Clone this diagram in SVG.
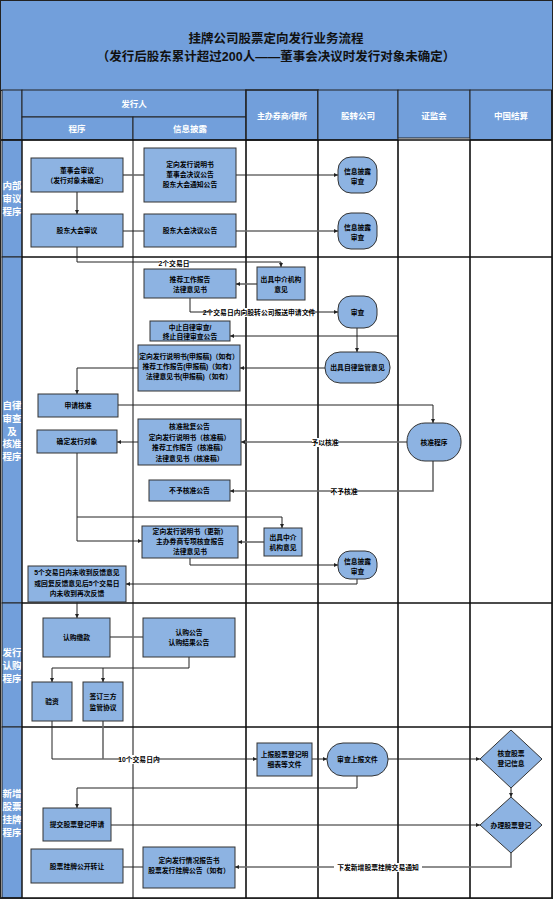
<svg xmlns="http://www.w3.org/2000/svg" width="553" height="900" viewBox="0 0 553 900">
<style>
.hd{fill:#729FDB;stroke:#222;stroke-width:1}
.ln{stroke:#111;stroke-width:1.6;fill:none}
.lt{stroke:#111;stroke-width:1;fill:none}
.bx{fill:#8DB3E2;stroke:#333;stroke-width:1}
.t{font-family:"Liberation Sans","Noto Sans CJK SC",sans-serif;font-size:6.8px;font-weight:bold;text-anchor:middle;fill:#000}
.w{font-family:"Liberation Sans","Noto Sans CJK SC",sans-serif;font-weight:bold;text-anchor:middle;fill:#fff}
.ttl{font-family:"Liberation Sans","Noto Sans CJK SC",sans-serif;font-size:12.5px;font-weight:bold;text-anchor:middle;fill:#111}
.c{stroke:#222;stroke-width:1;fill:none}
.g{stroke:#6a6a6a;stroke-width:1.6;fill:none}
.lb{fill:#fff}
</style>
<defs>
<marker id="ar" viewBox="0 0 6 6" refX="6" refY="3" markerWidth="4" markerHeight="4" orient="auto" markerUnits="userSpaceOnUse"><path d="M0,0 L6,3 L0,6 z" fill="#222"/></marker>
</defs>
<rect x="0" y="0" width="553" height="900" fill="#fff"/>
<g id="title">
<rect class="hd" x="0.5" y="0.5" width="552" height="90"/>
<text class="ttl" x="276" y="43">挂牌公司股票定向发行业务流程</text>
<text class="ttl" x="276" y="61">（发行后股东累计超过200人——董事会决议时发行对象未确定）</text>
</g>
<g id="header">
<rect class="hd" x="2" y="90" width="20" height="50"/>
<rect class="hd" x="22" y="90" width="224" height="27"/>
<rect class="hd" x="22" y="117" width="111" height="23"/>
<rect class="hd" x="133" y="117" width="113" height="23"/>
<rect class="hd" x="246" y="90" width="72" height="50" style="stroke-width:1.6"/>
<rect class="hd" x="318" y="90" width="80" height="50"/>
<rect class="hd" x="398" y="90" width="72" height="48"/>
<rect class="hd" x="470" y="90" width="82" height="50"/>
<text class="w" x="134" y="107" font-size="8.5">发行人</text>
<text class="w" x="77" y="132" font-size="8.5">程序</text>
<text class="w" x="190" y="132" font-size="8.5">信息披露</text>
<text class="w" x="282" y="119" font-size="8">主办券商/律所</text>
<text class="w" x="358" y="119" font-size="8.5">股转公司</text>
<text class="w" x="434" y="119" font-size="8.5">证监会</text>
<text class="w" x="511" y="119" font-size="8.5">中国结算</text>
</g>
<g id="lanes">
<rect class="hd" x="2" y="140" width="20" height="117"/>
<rect class="hd" x="2" y="257" width="20" height="346"/>
<rect class="hd" x="2" y="603" width="20" height="124"/>
<rect class="hd" x="2" y="727" width="20" height="171"/>
<text class="w" font-size="9.5"><tspan x="12" y="189">内部</tspan><tspan x="12" y="202">审议</tspan><tspan x="12" y="215">程序</tspan></text>
<text class="w" font-size="9.5"><tspan x="12" y="409">自律</tspan><tspan x="12" y="422">审查</tspan><tspan x="12" y="435">及</tspan><tspan x="12" y="447">核准</tspan><tspan x="12" y="460">程序</tspan></text>
<text class="w" font-size="9.5"><tspan x="12" y="656">发行</tspan><tspan x="12" y="669">认购</tspan><tspan x="12" y="682">程序</tspan></text>
<text class="w" font-size="9.5"><tspan x="12" y="797">新增</tspan><tspan x="12" y="810">股票</tspan><tspan x="12" y="823">挂牌</tspan><tspan x="12" y="836">程序</tspan></text>
<path class="lt" d="M22,140 V898 M133,140 V898"/>
<path class="ln" d="M246,140 V898 M318,140 V898 M398,140 V898 M470,140 V898 M552,90 V898"/>
<path class="ln" d="M0,140 H553 M22,257 H553 M22,603 H553 M22,727 H553 M0,898 H553"/>
<rect x="0.5" y="0.5" width="552" height="898" fill="none" stroke="#222"/>
</g>
<g id="connectors">
<path class="g" d="M123,175 H144"/>
<path class="c" d="M236,175 H338" marker-end="url(#ar)"/>
<path class="g" d="M77,192 V214" marker-end="url(#ar)"/>
<path class="c" d="M123,231 H144"/>
<path class="g" d="M236,231 H338" marker-end="url(#ar)"/>
<path class="c" d="M77,247 V262 H281 V267" marker-end="url(#ar)"/>
<path class="g" d="M257,284 H236" marker-end="url(#ar)"/>
<path class="c" d="M190,298 V312 H338" marker-end="url(#ar)"/>
<path class="c" d="M357,328 V352" marker-end="url(#ar)"/>
<path class="c" d="M398,336 H230" marker-end="url(#ar)"/>
<path class="c" d="M325,368 H240" marker-end="url(#ar)"/>
<path class="c" d="M138,368 H77 V394" marker-end="url(#ar)"/>
<path class="c" d="M118,405 H433 V423" marker-end="url(#ar)"/>
<path class="g" d="M407,442 H241" marker-end="url(#ar)"/>
<path class="c" d="M138,442 H117" marker-end="url(#ar)"/>
<path class="g" d="M433,461 V491 H230" marker-end="url(#ar)"/>
<path class="c" d="M77,453 V541 H142" marker-end="url(#ar)"/>
<path class="c" d="M77,517 H282 V528" marker-end="url(#ar)"/>
<path class="g" d="M264,542 H238" marker-end="url(#ar)"/>
<path class="c" d="M190,558 V565 H338" marker-end="url(#ar)"/>
<path class="c" d="M357,579 V584 H126" marker-end="url(#ar)"/>
<path class="c" d="M77,602 V618" marker-end="url(#ar)"/>
<path class="g" d="M110,637 H143"/>
<path class="c" d="M189,657 V668 H52 V682" marker-end="url(#ar)"/>
<path class="c" d="M103,668 V682" marker-end="url(#ar)"/>
<path class="c" d="M52,721 V759 H257" marker-end="url(#ar)"/>
<path class="g" d="M103,721 V759"/>
<path class="c" d="M312,759 H327" marker-end="url(#ar)"/>
<path class="c" d="M388,759 H480" marker-end="url(#ar)"/>
<path class="c" d="M511,788 V797" marker-end="url(#ar)"/>
<path class="c" d="M357,776 V788 H77 V808" marker-end="url(#ar)"/>
<path class="c" d="M111,825 H480" marker-end="url(#ar)"/>
<path class="g" d="M511,853 V867 H235" marker-end="url(#ar)"/>
<path class="c" d="M143,867 H123"/>
<rect class="lb" x="159" y="259" width="30" height="9"/>
<text class="t" x="174" y="266">2个交易日</text>
<rect class="lb" x="212" y="308" width="94" height="9"/>
<text class="t" x="259" y="315">2个交易日内向股转公司报送申请文件</text>
<rect class="lb" x="312" y="438" width="26" height="9"/>
<text class="t" x="325" y="445">予以核准</text>
<rect class="lb" x="332" y="487" width="24" height="9"/>
<text class="t" x="344" y="494">不予核准</text>
<rect class="lb" x="121" y="755" width="36" height="9"/>
<text class="t" x="139" y="762">10个交易日内</text>
<rect class="lb" x="334" y="863" width="88" height="9"/>
<text class="t" x="378" y="870">下发新增股票挂牌交易通知</text>
</g>
<g id="n_A"><rect class="bx" x="31" y="158" width="92" height="34"/><text class="t" x="77" y="173">董事会审议</text><text class="t" x="77" y="183">（发行对象未确定）</text></g>
<g id="n_B"><rect class="bx" x="144" y="148" width="92" height="54"/><text class="t" x="190" y="167">定向发行说明书</text><text class="t" x="190" y="177">董事会决议公告</text><text class="t" x="190" y="187">股东大会通知公告</text></g>
<g id="n_C"><rect class="bx" x="31" y="214" width="92" height="33"/><text class="t" x="77" y="233">股东大会审议</text></g>
<g id="n_D"><rect class="bx" x="144" y="214" width="92" height="33"/><text class="t" x="190" y="233">股东大会决议公告</text></g>
<g id="n_E"><rect class="bx" x="338" y="157" width="39" height="36" rx="13"/><text class="t" x="357.5" y="174">信息披露</text><text class="t" x="357.5" y="184">审查</text></g>
<g id="n_F"><rect class="bx" x="338" y="213" width="39" height="36" rx="13"/><text class="t" x="357.5" y="230">信息披露</text><text class="t" x="357.5" y="240">审查</text></g>
<g id="n_G"><rect class="bx" x="257" y="267" width="48" height="33"/><text class="t" x="281" y="282">出具中介机构</text><text class="t" x="281" y="292">意见</text></g>
<g id="n_H"><rect class="bx" x="144" y="269" width="92" height="29"/><text class="t" x="190" y="282">推荐工作报告</text><text class="t" x="190" y="292">法律意见书</text></g>
<g id="n_I"><rect class="bx" x="338" y="296" width="39" height="32" rx="13"/><text class="t" x="357.5" y="315">审查</text></g>
<g id="n_J"><rect class="bx" x="325" y="352" width="65" height="31" rx="15"/><text class="t" x="357.5" y="370">出具自律监管意见</text></g>
<g id="n_L"><rect class="bx" x="150" y="321" width="80" height="20"/><text class="t" x="190" y="330">中止自律审查/</text><text class="t" x="190" y="339">终止自律审查公告</text></g>
<g id="n_K"><rect class="bx" x="138" y="345" width="102" height="46"/><text class="t" x="189" y="359">定向发行说明书(申报稿)（如有）</text><text class="t" x="189" y="369">推荐工作报告(申报稿)（如有）</text><text class="t" x="189" y="379">法律意见书(申报稿)（如有）</text></g>
<g id="n_M"><rect class="bx" x="38" y="394" width="80" height="23"/><text class="t" x="78" y="408">申请核准</text></g>
<g id="n_N"><rect class="bx" x="407" y="423" width="54" height="38" rx="18"/><text class="t" x="434" y="445">核准程序</text></g>
<g id="n_O"><rect class="bx" x="138" y="419" width="103" height="46"/><text class="t" x="189.5" y="429">核准批复公告</text><text class="t" x="189.5" y="439.5">定向发行说明书（核准稿）</text><text class="t" x="189.5" y="450">推荐工作报告（核准稿）</text><text class="t" x="189.5" y="460.5">法律意见书（核准稿）</text></g>
<g id="n_P"><rect class="bx" x="37" y="430" width="80" height="23"/><text class="t" x="77" y="444">确定发行对象</text></g>
<g id="n_Q"><rect class="bx" x="149" y="480" width="81" height="21"/><text class="t" x="189.5" y="493">不予核准公告</text></g>
<g id="n_R"><rect class="bx" x="264" y="528" width="38" height="28"/><text class="t" x="283" y="540">出具中介</text><text class="t" x="283" y="550">机构意见</text></g>
<g id="n_S"><rect class="bx" x="142" y="526" width="96" height="32"/><text class="t" x="190" y="533.5">定向发行说明书（更新）</text><text class="t" x="190" y="544">主办券商专项核查报告</text><text class="t" x="190" y="554">法律意见书</text></g>
<g id="n_T"><rect class="bx" x="338" y="551" width="39" height="28" rx="12"/><text class="t" x="357.5" y="564">信息披露</text><text class="t" x="357.5" y="574">审查</text></g>
<g id="n_U"><rect class="bx" x="28" y="566" width="98" height="36"/><text class="t" x="77" y="575">5个交易日内未收到反馈意见</text><text class="t" x="77" y="586">或回复反馈意见后5个交易日</text><text class="t" x="77" y="596">内未收到再次反馈</text></g>
<g id="n_V"><rect class="bx" x="43" y="618" width="67" height="39"/><text class="t" x="76.5" y="640">认购缴款</text></g>
<g id="n_W"><rect class="bx" x="143" y="618" width="92" height="39"/><text class="t" x="189" y="635">认购公告</text><text class="t" x="189" y="645">认购结果公告</text></g>
<g id="n_X"><rect class="bx" x="32" y="682" width="40" height="39"/><text class="t" x="52" y="704">验资</text></g>
<g id="n_Y"><rect class="bx" x="83" y="682" width="40" height="39"/><text class="t" x="103" y="699">签订三方</text><text class="t" x="103" y="710">监管协议</text></g>
<g id="n_Z"><rect class="bx" x="257" y="743" width="55" height="33"/><text class="t" x="284.5" y="757">上报股票登记明</text><text class="t" x="284.5" y="767">细表等文件</text></g>
<g id="n_AA"><rect class="bx" x="327" y="743" width="61" height="33" rx="16"/><text class="t" x="357.5" y="762">审查上报文件</text></g>
<g id="n_BB"><path class="bx" d="M511,730 L542,759 L511,788 L480,759 Z"/><text class="t" x="511" y="756">核查股票</text><text class="t" x="511" y="766">登记信息</text></g>
<g id="n_CC"><path class="bx" d="M511,797 L542,825 L511,853 L480,825 Z"/><text class="t" x="511" y="828">办理股票登记</text></g>
<g id="n_DD"><rect class="bx" x="43" y="808" width="68" height="33"/><text class="t" x="77" y="827">提交股票登记申请</text></g>
<g id="n_EE"><rect class="bx" x="143" y="847" width="92" height="41"/><text class="t" x="189" y="863">定向发行情况报告书</text><text class="t" x="189" y="873">股票发行挂牌公告（如有）</text></g>
<g id="n_FF"><rect class="bx" x="31" y="849" width="92" height="34"/><text class="t" x="77" y="869">股票挂牌公开转让</text></g>
</svg>
